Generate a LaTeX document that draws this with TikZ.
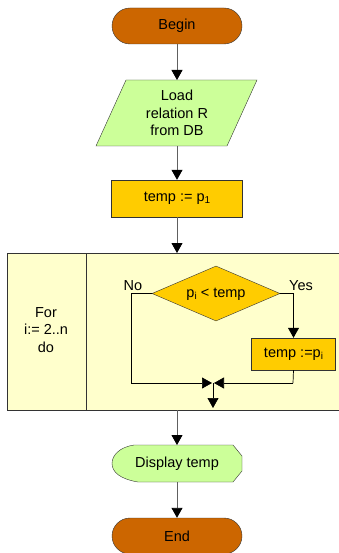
\documentclass[tikz,border=0pt]{standalone}
\usepackage{fontspec}
\setmainfont{Liberation Sans}
\usetikzlibrary{arrows.meta,shapes.geometric}
\definecolor{termfill}{HTML}{CC6600}
\definecolor{iofill}{HTML}{CCFF99}
\definecolor{procfill}{HTML}{FFCC00}
\definecolor{loopfill}{HTML}{FFFFCC}
\definecolor{wire}{HTML}{606060}
\tikzset{
  every node/.style={font=\fontsize{14.5}{17.5}\selectfont, inner sep=0pt, align=center},
  terminal/.style={draw=black!80, fill=termfill, rounded corners=18pt, minimum width=130pt, minimum height=36pt},
  procbox/.style={draw=black!80, fill=procfill, minimum width=131pt, minimum height=37pt},
  flow/.style={draw=wire, line width=0.9pt, -{Triangle[black,width=11pt,length=10pt]}},
  inner/.style={draw=black, line width=0.7pt},
  innerarrow/.style={draw=black, line width=0.7pt, -{Triangle[black,width=11pt,length=10pt]}},
  lbl/.style={font=\fontsize{14.5}{16}\selectfont},
  sub/.style={}
}
\newcommand{\lowidx}[1]{\raisebox{-0.25ex}{\fontsize{10}{10}\selectfont #1}}
\begin{document}
\begin{tikzpicture}[x=1pt,y=-1pt]
\useasboundingbox (0,0) rectangle (339,553);
\fill[white] (0,0) rectangle (339,553);

% start / end terminals
\node[terminal] (begin) at (177,26) {Begin};
\node[terminal] (end) at (177,536) {End};

% input parallelogram
\filldraw[draw=black!80, fill=iofill] (126,80) -- (257,80) -- (227,146) -- (96,146) -- cycle;
\node (load) at (177,113) {Load\\relation R\\from DB};
\coordinate (loadtop) at (177,80);
\coordinate (loadbot) at (177,146);

% initialisation
\node[procbox] (init) at (177,198.5) {temp := p\lowidx{1}};

% loop frame
\filldraw[draw=black!80, fill=loopfill, line width=0.7pt] (7,253) rectangle (350,410);
\draw[black!80, line width=0.7pt] (86,253) -- (86,410);
\coordinate (looptop) at (177,253);
\coordinate (loopbot) at (177,410);
\node (for) at (46,330) {For\\i:= 2..n\\do};

% decision
\node[diamond, draw=black!80, fill=procfill, minimum width=128pt, minimum height=55pt, aspect=2.33] (cond) at (216,293.5) {};
\node at (216,294) {p\lowidx{i} < temp};
\node[lbl] (no) at (133,286) {No};
\node[lbl] (yes) at (301,286) {Yes};

% update
\node[draw=black!80, fill=procfill, minimum width=84pt, minimum height=32pt] (upd) at (293.5,354) {temp :=p\lowidx{i}};

% merge
\coordinate (merge) at (213,383);
\coordinate (mergeL) at (131,383);
\coordinate (mergeR) at (293,383);
\coordinate (mergeout) at (213,408);

\draw[inner] (cond.west) -| (mergeL);
\draw[innerarrow] (mergeL) -- ([xshift=-1pt]merge);
\draw[innerarrow] (cond.east) -| (upd.north);
\draw[inner] (upd.south) -- (mergeR);
\draw[innerarrow] (mergeR) -- ([xshift=1pt]merge);
\draw[innerarrow] (merge) -- (mergeout);

% output
\filldraw[draw=black!80, fill=iofill] (233,445) -- (242,456) -- (242,471) -- (233,482) -- (138,482)
  .. controls (120,479) and (112,472) .. (112,463.5)
  .. controls (112,455) and (120,447) .. (134,445) -- cycle;
\node (disp) at (177,463.5) {Display temp};
\coordinate (disptop) at (177,445);
\coordinate (dispbot) at (177,482);

% main flow
\draw[flow] (begin.south) -- (loadtop);
\draw[flow] (loadbot) -- (init.north);
\draw[flow] (init.south) -- (looptop);
\draw[flow] (loopbot) -- (disptop);
\draw[flow] (dispbot) -- (end.north);
\end{tikzpicture}
\end{document}
